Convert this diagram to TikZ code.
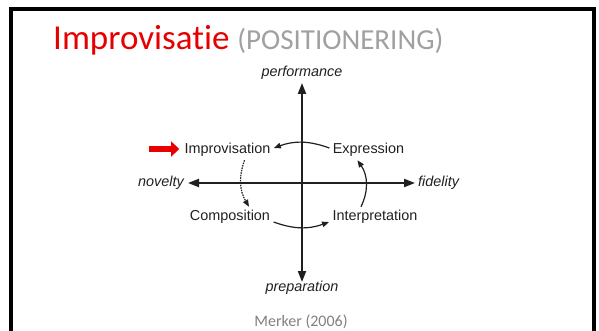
\documentclass[tikz,border=0pt]{standalone}
\usepackage{fontspec}
\setmainfont{Liberation Sans}
\newfontfamily\titlefont[Ligatures=NoCommon]{Carlito}
\usepackage{tikz}
\usetikzlibrary{arrows.meta}
\definecolor{titlered}{RGB}{230,0,0}
\definecolor{titlegray}{RGB}{160,160,160}
\definecolor{srcgray}{RGB}{128,128,128}
\definecolor{ink}{RGB}{35,31,32}

\begin{document}
\begin{tikzpicture}[x=1pt, y=-1pt,
  every node/.style={text=ink, font=\fontsize{14.4}{16}\selectfont},
  axislabel/.style={font=\fontsize{14.4}{16}\selectfont\itshape},
  axis/.style={ink, line width=2pt, {Triangle[length=11pt,width=8pt]}-{Triangle[length=11pt,width=8pt]}},
  turn/.style={ink, line width=1.2pt, -{Triangle[length=7pt,width=5.5pt]}}]
  \useasboundingbox (0,0) rectangle (599,331);
  \draw[line width=4pt] (10.5,8.7) rectangle (594,360);
  % title
  \node [anchor=base west, inner sep=0pt] (title) at (53,50)
    {\titlefont\fontsize{35}{40}\selectfont\color{titlered}Improvisatie
     \fontsize{29}{34}\selectfont\color{titlegray}(POSITIONERING)};
  \node [anchor=base, inner sep=0pt, text=srcgray] (source) at (301,326)
    {\titlefont\fontsize{16}{18}\selectfont Merker (2006)};
  % axes
  \coordinate (top) at (302,83);
  \coordinate (bottom) at (302,282);
  \coordinate (left) at (188,183);
  \coordinate (right) at (415,183);
  \draw[axis] (top) -- (bottom);
  \draw[axis] (left) -- (right);
  \node [axislabel] (perf) at (302,73) {performance};
  \node [axislabel] (prep) at (302,288) {preparation};
  \node [axislabel, anchor=east, inner sep=0pt] (nov) at (184,183) {novelty};
  \node [axislabel, anchor=west, inner sep=0pt] (fid) at (418,183) {fidelity};
  % quadrants
  \node (impro) at (227.5,150) {Improvisation};
  \node (expr) at (368.5,150) {Expression};
  \node (comp) at (230,217) {Composition};
  \node (interp) at (375,217) {Interpretation};
  \draw[turn] ([yshift=2pt]expr.west) to[bend right=20] ([yshift=2pt]impro.east);
  \draw[turn, dash pattern=on 1.5pt off 1pt] ([xshift=17pt]impro.south) to[bend right=25] ([xshift=19pt]comp.north);
  \draw[turn] ([yshift=-5pt]comp.east) to[bend right=20] ([yshift=-5pt]interp.west);
  \draw[turn] ([xshift=-14pt]interp.north) to[bend right=30] ([xshift=-11pt]expr.south);
  % pointer
  \coordinate (ptr) at (149,149);
  \draw[titlered, line width=6.5pt, shorten >=2pt, -{Triangle[length=8pt,width=15pt]}] (ptr) -- (impro.west |- ptr);
\end{tikzpicture}
\end{document}
